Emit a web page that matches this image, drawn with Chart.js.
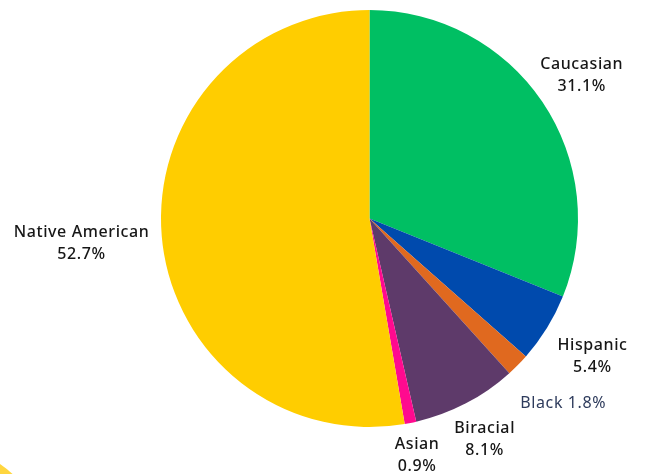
<!DOCTYPE html>
<html>
<head>
<meta charset="utf-8">
<script src="https://cdn.jsdelivr.net/npm/chart.js@4.4.0/dist/chart.umd.min.js"></script>
<style>
  html, body { margin: 0; padding: 0; background: #fff; overflow: hidden; }
  #wrap { position: relative; width: 655px; height: 474px; }
  #blob { position: absolute; left: -153px; top: 447px; width: 196px; height: 196px;
          border-radius: 50%; background: #FFD63F; }
  canvas { position: absolute; left: 0; top: 0; }
</style>
</head>
<body>
<div id="wrap">
  <div id="blob"></div>
  <canvas id="pie" width="655" height="474"></canvas>
</div>
<script>
// data
const categories = ['Caucasian', 'Hispanic', 'Black', 'Biracial', 'Asian', 'Native American'];
const shares = [31.1, 5.4, 1.8, 8.1, 0.9, 52.7];
const sliceColors = ['#00BF63', '#004AAD', '#E0691F', '#5E3A6A', '#FF0A8F', '#FFCD00'];

// label placement: distance from centre and single/double line
const labelDist = [256, 262, 268, 249, 242, 289];
const oneLine = [false, false, true, false, false, false];

const outsideLabels = {
  id: 'outsideLabels',
  afterDatasetsDraw(chart) {
    const ctx = chart.ctx;
    const arcs = chart.getDatasetMeta(0).data;
    ctx.save();
    ctx.textAlign = 'center';
    ctx.textBaseline = 'middle';
    ctx.letterSpacing = '0.6px';
    arcs.forEach((arc, i) => {
      const mid = (arc.startAngle + arc.endAngle) / 2;
      const x = arc.x + Math.cos(mid) * labelDist[i];
      const y = arc.y + Math.sin(mid) * labelDist[i];
      const pct = shares[i].toFixed(1) + '%';
      if (oneLine[i]) {
        ctx.fillStyle = '#2E3B5C';
        ctx.font = '400 16px "Noto Sans"';
        ctx.fillText(categories[i] + ' ' + pct, x + 3, y - 3);
      } else {
        ctx.fillStyle = '#161616';
        ctx.font = '500 16px "Noto Sans"';
        ctx.fillText(categories[i], x, y - 11);
        ctx.fillText(pct, x, y + 11);
      }
    });
    ctx.restore();
  }
};

new Chart(document.getElementById('pie').getContext('2d'), {
  type: 'pie',
  data: {
    labels: categories,
    datasets: [{
      data: shares,
      backgroundColor: sliceColors,
      borderWidth: 0
    }]
  },
  options: {
    responsive: false,
    animation: false,
    layout: { padding: { left: 161, right: 77, top: 10, bottom: 47 } },
    plugins: {
      legend: { display: false },
      tooltip: { enabled: false }
    }
  },
  plugins: [outsideLabels]
});
</script>
</body>
</html>
